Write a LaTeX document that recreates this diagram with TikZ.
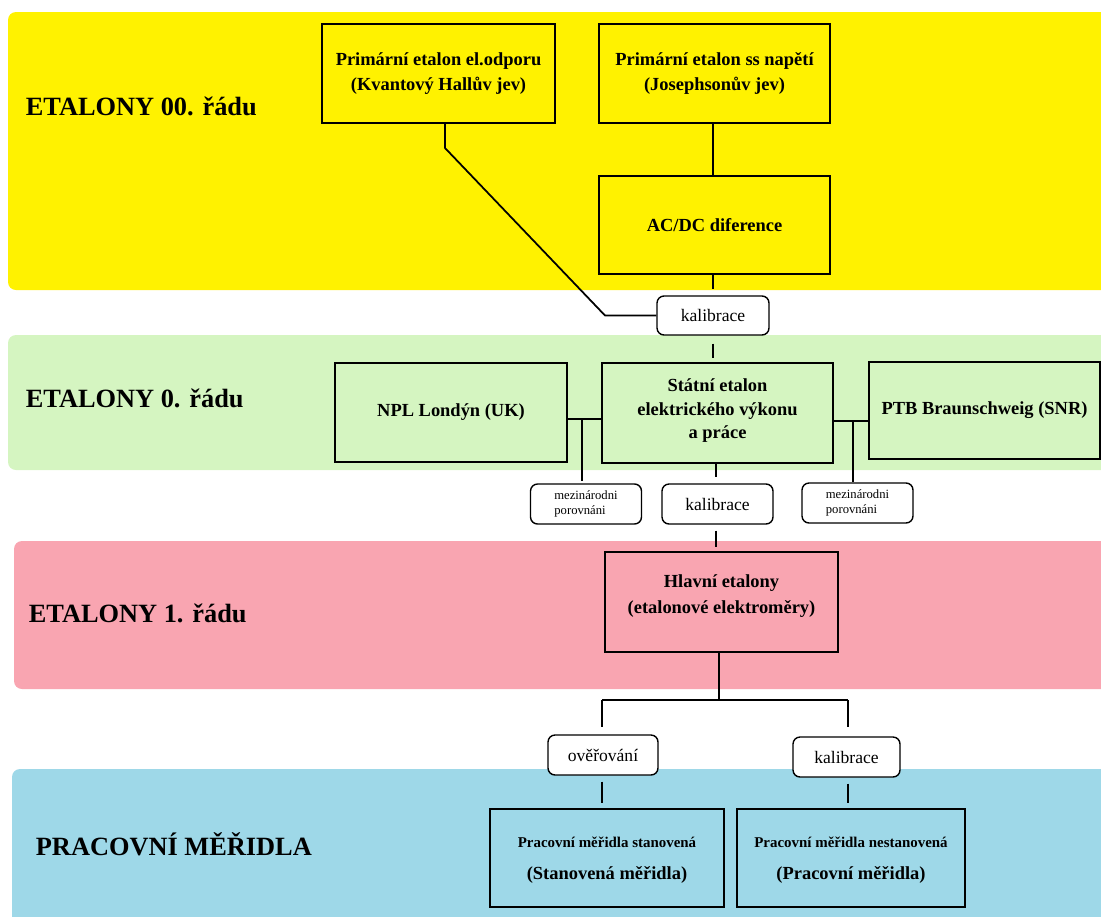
\documentclass[tikz,border=0pt]{standalone}
\usepackage{fontspec}
\setmainfont{Liberation Serif}
\usepackage{tikz}

\newlength\pxu
\setlength\pxu{0.02cm}

\definecolor{band00}{RGB}{255,242,0}
\definecolor{band0}{RGB}{213,245,193}
\definecolor{band1}{RGB}{249,165,177}
\definecolor{bandw}{RGB}{158,216,232}

\tikzset{
  box/.style={draw, line width=1pt, inner sep=0pt, align=center,
    font=\fontsize{10.5}{14}\selectfont\bfseries},
  tag/.style={draw, line width=0.8pt, rounded corners=4pt, fill=white,
    inner sep=0pt, minimum width=111\pxu, minimum height=40\pxu,
    align=center, font=\fontsize{10}{12}\selectfont},
  small tag/.style={tag, align=left, font=\fontsize{7.2}{8.5}\selectfont},
  level/.style={anchor=west, inner sep=0pt, font=\fontsize{15}{18}\selectfont\bfseries},
  lift/.style={text depth=#1},
}

\begin{document}
\begin{tikzpicture}[x=0.02cm,y=-0.02cm,line width=1pt]
  \useasboundingbox (0,0) rectangle (1101,916);
  \clip (0,0) rectangle (1101,916);

  % bands
  \fill[band00, rounded corners=8\pxu] (8,12) rectangle (1130,290);
  \fill[band0, rounded corners=8\pxu] (8,335) rectangle (1130,470);
  \fill[band1, rounded corners=8\pxu] (14,541) rectangle (1130,689);
  \fill[bandw, rounded corners=8\pxu] (12,769) rectangle (1130,940);

  \node[level] (lvl00) at (25,106) {ETALONY 00. řádu};
  \node[level] (lvl0) at (25,398) {ETALONY 0. řádu};
  \node[level] (lvl1) at (28,613) {ETALONY 1. řádu};
  \node[level] (lvlw) at (35,844) {PRACOVNÍ MĚŘIDLA};

  % 00
  \node[box, minimum width=233\pxu, minimum height=99\pxu] (prim1) at (438.5,73.5)
    {Primární etalon el.odporu\\(Kvantový Hallův jev)};
  \node[box, minimum width=231\pxu, minimum height=99\pxu] (prim2) at (714.5,73.5)
    {Primární etalon ss napětí\\(Josephsonův jev)};
  \node[box, minimum width=231\pxu, minimum height=98\pxu] (acdc) at (714.5,225) {AC/DC diference};
  \node[tag, minimum width=112\pxu, minimum height=39\pxu] (kal1) at (713,315.5) {kalibrace};

  % 0
  \node[box, minimum width=232\pxu, minimum height=99\pxu] (npl) at (451,412.5) {NPL Londýn (UK)};
  \node[box, lift=5pt, minimum width=231\pxu, minimum height=100\pxu, font=\fontsize{10.5}{13.6}\selectfont\bfseries] (stat) at (717.5,413)
    {Státní etalon\\elektrického výkonu\\a práce};
  \node[box, minimum width=231\pxu, minimum height=97\pxu] (ptb) at (984.5,410.5) {PTB Braunschweig (SNR)};
  \node[small tag] (mez1) at (586,504) {mezinárodni\\porovnáni};
  \node[tag] (kal2) at (717.5,504) {kalibrace};
  \node[small tag] (mez2) at (857.5,503) {mezinárodni\\porovnáni};

  % 1
  \node[box, lift=9pt, minimum width=233\pxu, minimum height=100\pxu, font=\fontsize{10.5}{15}\selectfont\bfseries] (hlav) at (721.5,602)
    {Hlavní etalony\\(etalonové elektroměry)};
  \node[tag, minimum width=110\pxu] (over) at (603,755) {ověřování};
  \node[tag, minimum width=107\pxu] (kal3) at (846.5,757) {kalibrace};

  % pracovni
  \node[box, lift=0pt, minimum width=234\pxu, minimum height=98\pxu, font=\fontsize{8.5}{18}\selectfont\bfseries] (prac1) at (607,858)
    {Pracovní měřidla stanovená\\{\fontsize{10.5}{18}\selectfont (Stanovená měřidla)}};
  \node[box, lift=0pt, minimum width=228\pxu, minimum height=98\pxu, font=\fontsize{8.5}{18}\selectfont\bfseries] (prac2) at (851,858)
    {Pracovní měřidla nestanovená\\{\fontsize{10.5}{18}\selectfont (Pracovní měřidla)}};

  % connectors
  \coordinate (c1) at (445,148);
  \coordinate (c2) at (605,315.5);
  \coordinate (v1) at (713,0);
  \coordinate (v2) at (716,0);
  \draw (prim1.south -| c1) -- (c1) -- (c2) -- (kal1.west);
  \draw (prim2.south -| v1) -- (acdc.north -| v1);
  \draw[shorten >=6\pxu] (acdc.south -| v1) -- (kal1.north -| v1);
  \draw[shorten <=8\pxu, shorten >=4\pxu] (kal1.south -| v1) -- (stat.north -| v1);

  \coordinate (j1) at (582,419);
  \draw (npl.east |- j1) -- (stat.west |- j1);
  \draw[shorten >=2\pxu] (j1) -- (j1 |- mez1.north);
  \coordinate (j2) at (853,421);
  \draw (stat.east |- j2) -- (ptb.west |- j2);
  \draw (j2) -- (j2 |- mez2.north);
  \draw[shorten >=6\pxu] (stat.south -| v2) -- (kal2.north -| v2);

  \draw[shorten <=6\pxu, shorten >=4\pxu] (kal2.south -| v2) -- (hlav.north -| v2);
  \coordinate (s0) at (719,700);
  \coordinate (sl) at (602,700);
  \coordinate (sr) at (848,700);
  \draw (hlav.south -| s0) -- (s0);
  \draw (sl) -- (sr);
  \draw[shorten >=7\pxu] (sl) -- (sl |- over.north);
  \draw[shorten >=9\pxu] (sr) -- (sr |- kal3.north);
  \draw[shorten <=6\pxu, shorten >=5\pxu] (over.south -| sl) -- (prac1.north -| sl);
  \draw[shorten <=6\pxu, shorten >=5\pxu] (kal3.south -| sr) -- (prac2.north -| sr);
\end{tikzpicture}
\end{document}
